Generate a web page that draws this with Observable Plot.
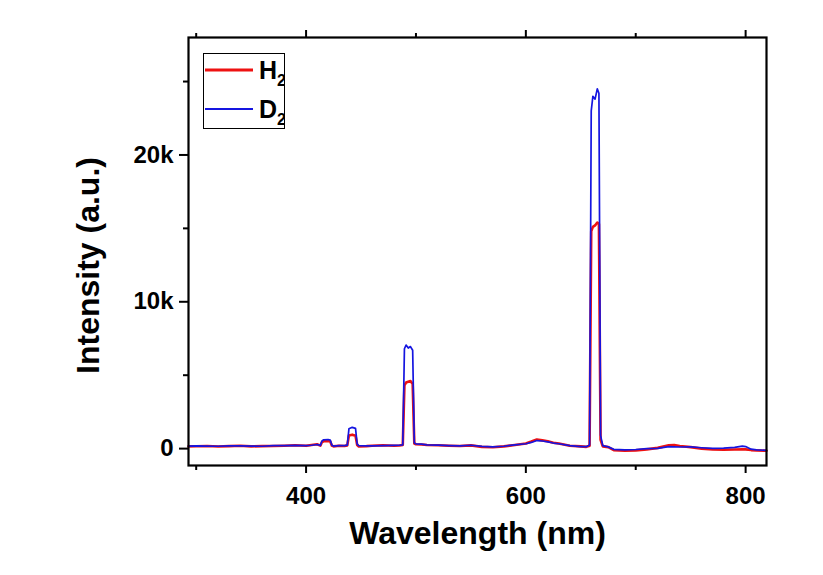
<!DOCTYPE html>
<html>
<head>
<meta charset="utf-8">
<script src="https://cdn.jsdelivr.net/npm/d3@7"></script>
<script src="https://cdn.jsdelivr.net/npm/@observablehq/plot@0.6"></script>
<style>
  html, body { margin: 0; padding: 0; background: white; }
  #wrap { position: relative; width: 823px; height: 575px; font-family: Arial, "Liberation Sans", sans-serif; }
  #legend { position: absolute; left: 203px; top: 53px; width: 82px; height: 76px; border: 1px solid black; background: white; box-sizing: border-box; }
</style>
</head>
<body>
<div id="wrap"></div>
<script>
const wavelength = [293,300,310,320,330,340,350,360,370,380,390,400,405,410,413,414.5,416,420,422,423.5,425,430,435,437.5,439,442,445,446.5,448,455,460,470,480,485,488,489.5,491,493,495,497,498.5,500,505,510,520,530,540,550,560,570,580,590,600,605,610,615,620,625,630,640,650,655,658,659.5,661,663,665,666.5,668,670,675,680,690,700,710,720,730,735,740,750,760,770,780,790,797,800,805,810,819];
const h2 = [150,160,180,140,170,200,150,170,180,200,230,190,250,300,200,450,500,520,480,200,150,200,180,220,900,950,880,250,150,170,200,230,200,210,250,4300,4500,4550,4600,4400,350,300,280,250,230,200,180,220,120,90,150,250,350,480,620,560,500,400,350,200,150,120,200,14800,15100,15200,15400,15300,600,150,100,-100,-150,-120,-50,50,220,250,180,100,0,-50,-80,-60,-40,-50,-100,-120,-150];
const d2 = [170,180,170,160,180,190,170,160,200,210,220,210,230,280,220,520,600,620,580,230,170,210,200,240,1350,1450,1380,300,200,190,180,210,220,230,260,6800,7050,6850,6950,6700,400,320,300,260,240,210,190,230,150,120,160,260,330,420,550,520,460,380,330,200,140,130,250,23000,24000,23800,24500,24200,900,200,120,-50,-80,-60,0,20,130,120,110,120,60,10,30,80,170,140,-40,-80,-120];
const seriesNames = ["H2", "D2"];
const seriesColors = ["#ee1111", "#1515e0"];
const xMajorTicks = [400, 600, 800];
const xMinorTicks = [300, 500, 700];
const yMajorTicks = [0, 10000, 20000];
const yMinorTicks = [5000, 15000, 25000];
const xLabel = "Wavelength (nm)";
const yLabel = "Intensity (a.u.)";

const rowsH = wavelength.map((w, i) => ({w, v: h2[i]}));
const rowsD = wavelength.map((w, i) => ({w, v: d2[i]}));
const kfmt = d => d === 0 ? "0" : (d / 1000) + "k";
const tickFont = {fontSize: 24, fontWeight: "bold"};

const chart = Plot.plot({
  width: 823,
  height: 575,
  marginLeft: 188,
  marginRight: 57,
  marginTop: 37,
  marginBottom: 110,
  style: {fontFamily: "Arial, 'Liberation Sans', sans-serif", background: "white", color: "black"},
  x: {domain: [293, 819]},
  y: {domain: [-1150, 28000]},
  marks: [
    Plot.line(rowsH, {x: "w", y: "v", stroke: seriesColors[0], strokeWidth: 2.6}),
    Plot.line(rowsD, {x: "w", y: "v", stroke: seriesColors[1], strokeWidth: 1.7}),
    Plot.frame({stroke: "black", strokeWidth: 2.2}),
    Plot.axisX(xMajorTicks, {anchor: "bottom", tickSize: 8, tickPadding: 13, label: null, strokeWidth: 2, ...tickFont}),
    Plot.axisX(xMinorTicks, {anchor: "bottom", tickSize: 5, tickFormat: () => "", label: null, strokeWidth: 2}),
    Plot.axisX(xMajorTicks, {anchor: "top", tickSize: 8, tickFormat: () => "", label: null, strokeWidth: 2}),
    Plot.axisX(xMinorTicks, {anchor: "top", tickSize: 5, tickFormat: () => "", label: null, strokeWidth: 2}),
    Plot.axisY(yMajorTicks, {anchor: "left", tickSize: 9, tickPadding: 6, tickFormat: kfmt, label: null, strokeWidth: 2, ...tickFont}),
    Plot.axisY(yMinorTicks, {anchor: "left", tickSize: 5, tickFormat: () => "", label: null, strokeWidth: 2}),
    Plot.text([xLabel], {frameAnchor: "bottom", dy: 78, fontSize: 32, fontWeight: "bold", fill: "black"}),
    Plot.text([yLabel], {frameAnchor: "left", textAnchor: "middle", dx: -100, dy: 14, rotate: -90, fontSize: 32, fontWeight: "bold", fill: "black"})
  ]
});

const wrap = document.getElementById("wrap");
wrap.appendChild(chart);

const legend = document.createElement("div");
legend.id = "legend";
const ns = "http://www.w3.org/2000/svg";
const lsvg = document.createElementNS(ns, "svg");
lsvg.setAttribute("width", "82");
lsvg.setAttribute("height", "76");
lsvg.style.position = "absolute";
lsvg.style.left = "-1px";
lsvg.style.top = "-1px";
seriesNames.forEach((name, i) => {
  const yy = i === 0 ? 17 : 56;
  const line = document.createElementNS(ns, "line");
  line.setAttribute("x1", "2"); line.setAttribute("x2", "50");
  line.setAttribute("y1", yy); line.setAttribute("y2", yy);
  line.setAttribute("stroke", seriesColors[i]);
  line.setAttribute("stroke-width", i === 0 ? 3 : 2);
  lsvg.appendChild(line);
  const t = document.createElementNS(ns, "text");
  t.setAttribute("x", "56");
  t.setAttribute("y", yy + 9);
  t.setAttribute("font-size", "25");
  t.setAttribute("font-weight", "bold");
  t.setAttribute("font-family", "Arial, 'Liberation Sans', sans-serif");
  t.appendChild(document.createTextNode(name[0]));
  const sub = document.createElementNS(ns, "tspan");
  sub.setAttribute("font-size", "16");
  sub.setAttribute("dy", "7");
  sub.textContent = name.slice(1);
  t.appendChild(sub);
  lsvg.appendChild(t);
});
legend.appendChild(lsvg);
wrap.appendChild(legend);
</script>
</body>
</html>
